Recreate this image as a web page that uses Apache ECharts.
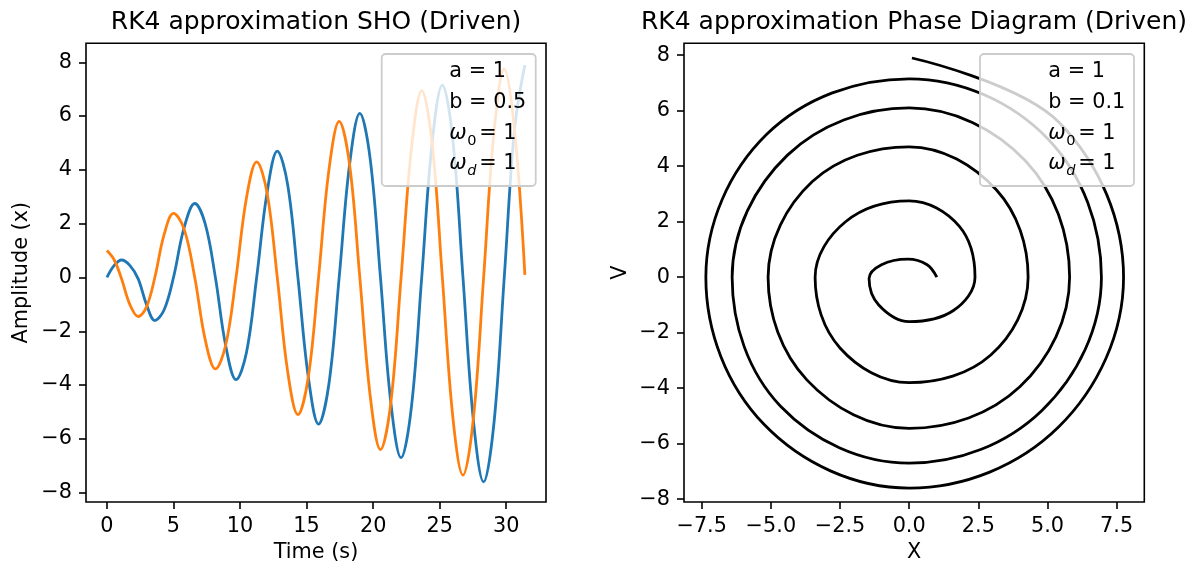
<!DOCTYPE html>
<html>
<head>
<meta charset="utf-8">
<script src="https://cdn.jsdelivr.net/npm/echarts@6/dist/echarts.min.js"></script>
<style>
html,body{margin:0;padding:0;background:#fff;}
#chart{width:1202px;height:564px;}
</style>
</head>
<body>
<div id="chart"></div>
<script>
// ---- data ----
const timeS = [0, 0.55, 1.1, 1.72, 2.35, 2.97, 3.6, 4.3, 5.0, 5.8, 6.6, 7.38, 8.15, 8.93, 9.7, 10.48, 11.25, 12.03, 12.8, 13.58, 14.35, 15.13, 15.9, 16.68, 17.45, 18.23, 19.0, 19.78, 20.55, 21.33, 22.1, 22.88, 23.65, 24.43, 25.2, 25.98, 26.75, 27.53, 28.3, 29.08, 29.85, 30.63, 31.4];
const amplitudeX = [0, 0.45, 0.65, 0.45, -0.05, -1.0, -1.6, -1.2, 0.0, 1.85, 2.75, 2.0, 0.0, -2.55, -3.8, -2.8, 0.0, 3.15, 4.7, 3.45, 0.0, -3.7, -5.45, -3.95, 0.0, 4.2, 6.1, 4.4, 0.0, -4.65, -6.7, -4.8, 0.0, 5.0, 7.15, 5.15, 0.0, -5.3, -7.6, -5.4, 0.0, 5.55, 7.9];
const velocityV = [1.0, 0.65, -0.05, -1.0, -1.45, -1.1, 0.0, 1.6, 2.38, 1.8, 0.0, -2.3, -3.4, -2.5, 0.0, 2.95, 4.3, 3.15, 0.0, -3.5, -5.1, -3.7, 0.0, 4.0, 5.8, 4.2, 0.0, -4.4, -6.4, -4.65, 0.0, 4.8, 6.95, 5.0, 0.0, -5.15, -7.35, -5.25, 0.0, 5.4, 7.75, 5.45, 0.1];
const leftTimeTicks = [0, 5, 10, 15, 20, 25, 30];
const leftAmpTicks = [-8, -6, -4, -2, 0, 2, 4, 6, 8];
const phaseXTicks = [-7.5, -5.0, -2.5, 0.0, 2.5, 5.0, 7.5];
const phaseVTicks = [-8, -6, -4, -2, 0, 2, 4, 6, 8];
const legendLeft = ['a = 1', 'b = 0.5', '1', '1'];
const legendRight = ['a = 1', 'b = 0.1', '1', '1'];

const FONT = '"DejaVu Sans", "Liberation Sans", sans-serif';
const FS = 20.8;
const minus = v => (v < 0 ? '\u2212' + Math.abs(v) : '' + v);
const minus1 = v => (v < 0 ? '\u2212' + Math.abs(v).toFixed(1) : v.toFixed(1));

const seriesX = timeS.map((t, i) => [t, amplitudeX[i]]);
const seriesV = timeS.map((t, i) => [t, velocityV[i]]);
const phase = timeS.map((t, i) => [velocityV[i], amplitudeX[i]]);

function axisCommon(ticks, fmt) {
  return {
    type: 'value',
    axisLine: { show: false, onZero: false },
    splitLine: { show: false },
    axisTick: { show: true, inside: false, length: 7, customValues: ticks, lineStyle: { color: '#000', width: 1.6 } },
    axisLabel: { show: true, margin: 14, customValues: ticks, formatter: fmt, color: '#000', fontSize: FS, fontFamily: FONT }
  };
}

function txt(text, x, y, opts) {
  opts = opts || {};
  const size = opts.size || FS;
  const style = opts.italic ? 'italic ' : '';
  return {
    type: 'text', x: x, y: y, rotation: opts.rotation || 0, z: 120,
    style: {
      text: text, x: 0, y: 0, fill: '#000',
      font: style + size + 'px ' + FONT,
      align: opts.align || 'left', verticalAlign: 'middle',
      textAlign: opts.align || 'left', textVerticalAlign: 'middle'
    }
  };
}

function legendBlock(lx, rectX, labels) {
  const els = [];
  els.push({ type: 'rect', z: 110, shape: { x: rectX, y: 54, width: 154, height: 132, r: 4 },
    style: { fill: 'rgba(255,255,255,0.8)', stroke: '#cccccc', lineWidth: 1.8 } });
  els.push(txt(labels[0], lx, 72));
  els.push(txt(labels[1], lx, 102.7));
  els.push(txt('\u03C9', lx, 133.3, { italic: true }));
  els.push(txt('0', lx + 18, 141.2, { size: 14.5 }));
  els.push(txt('= ' + labels[2], lx + 30, 133.3));
  els.push(txt('\u03C9', lx, 163.7, { italic: true }));
  els.push(txt('d', lx + 18, 171.6, { size: 14.5, italic: true }));
  els.push(txt('= ' + labels[3], lx + 30, 163.7));
  return els;
}

const chart = echarts.init(document.getElementById('chart'), null, { renderer: 'canvas' });
const grids = [
  { left: 86, top: 43.3, width: 460, height: 458.7, show: true, borderColor: '#000', borderWidth: 1.6, backgroundColor: 'transparent' },
  { left: 684, top: 43.3, width: 460.3, height: 458.7, show: true, borderColor: '#000', borderWidth: 1.6, backgroundColor: 'transparent' }
];
const xAxes = [
  Object.assign(axisCommon(leftTimeTicks, minus), { gridIndex: 0, position: 'bottom', min: -1.571, max: 32.987 }),
  Object.assign(axisCommon(phaseXTicks, minus1), { gridIndex: 1, position: 'bottom', min: -8.14, max: 8.50 })
];
const yAxes = [
  Object.assign(axisCommon(leftAmpTicks, minus), { gridIndex: 0, position: 'left', min: -8.346, max: 8.706 }),
  Object.assign(axisCommon(phaseVTicks, minus), { gridIndex: 1, position: 'left', min: -8.10, max: 8.43 })
];

const graphics = [].concat(
  [
    txt('RK4 approximation SHO (Driven)', 316, 22.5, { size: 25, align: 'center' }),
    txt('RK4 approximation Phase Diagram (Driven)', 914, 22.5, { size: 25, align: 'center' }),
    txt('Time (s)', 316, 553, { align: 'center' }),
    txt('X', 914, 553, { align: 'center' }),
    txt('Amplitude (x)', 22, 272.7, { align: 'center', rotation: Math.PI / 2 }),
    txt('V', 621, 272.7, { align: 'center', rotation: Math.PI / 2 })
  ],
  legendBlock(449.3, 381.7, legendLeft),
  legendBlock(1048.3, 980, legendRight)
);

chart.setOption({
  animation: false,
  backgroundColor: '#fff',
  grid: grids,
  xAxis: xAxes,
  yAxis: yAxes,
  series: [
    { type: 'line', xAxisIndex: 0, yAxisIndex: 0, data: seriesX, showSymbol: false, symbol: 'none', smooth: 0.37, lineStyle: { color: '#1f77b4', width: 2.8 }, z: 2 },
    { type: 'line', xAxisIndex: 0, yAxisIndex: 0, data: seriesV, showSymbol: false, symbol: 'none', smooth: 0.37, lineStyle: { color: '#ff7f0e', width: 2.8 }, z: 3 },
    { type: 'line', xAxisIndex: 1, yAxisIndex: 1, data: phase, showSymbol: false, symbol: 'none', smooth: 0.37, lineStyle: { color: '#000', width: 2.8 }, z: 2 }
  ],
  graphic: { elements: graphics }
});
</script>
</body>
</html>
